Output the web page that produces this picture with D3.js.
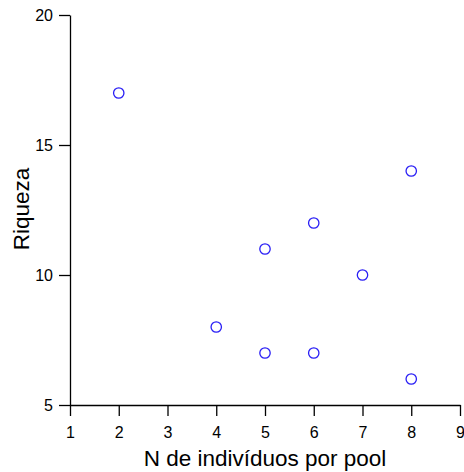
<!DOCTYPE html>
<html>
<head>
<meta charset="utf-8">
<script src="https://cdn.jsdelivr.net/npm/d3@7"></script>
<style>
  html, body { margin: 0; padding: 0; background: #fff; overflow: hidden; }
  svg { display: block; }
</style>
</head>
<body>
<svg id="chart" width="464" height="472"></svg>
<script>
// Riqueza por número de indivíduos no pool
const individuos = [2, 4, 5, 5, 6, 6, 7, 8, 8];
const riqueza    = [17, 8, 11, 7, 12, 7, 10, 14, 6];
const xTicks = [1, 2, 3, 4, 5, 6, 7, 8, 9];
const yTicks = [5, 10, 15, 20];

const svg = d3.select("#chart");
const font = "'Liberation Sans', Arial, sans-serif";

const x = d3.scaleLinear().domain([1, 9]).range([70, 460]);
const y = d3.scaleLinear().domain([5, 20]).range([405, 15]);

const xAxis = svg.append("g")
  .attr("transform", "translate(0,405)")
  .call(d3.axisBottom(x).tickValues(xTicks).tickSize(11).tickPadding(11).tickSizeOuter(0));
const yAxis = svg.append("g")
  .attr("transform", "translate(70,0)")
  .call(d3.axisLeft(y).tickValues(yTicks).tickSize(11).tickPadding(6).tickSizeOuter(0));

[xAxis, yAxis].forEach(g => {
  g.selectAll("path.domain").attr("stroke", "#000").attr("stroke-width", 1.3);
  g.selectAll(".tick line").attr("stroke", "#000").attr("stroke-width", 1.3);
  g.selectAll(".tick text")
    .attr("fill", "#000")
    .style("font-family", font)
    .style("font-size", "16px");
});

svg.append("g")
  .selectAll("circle")
  .data(individuos.map((d, i) => ({ n: d, r: riqueza[i] })))
  .join("circle")
  .attr("cx", d => x(d.n))
  .attr("cy", d => y(d.r))
  .attr("r", 5.2)
  .attr("fill", "none")
  .attr("stroke", "#2a1ff5")
  .attr("stroke-width", 1.3);

svg.append("text")
  .attr("x", 265)
  .attr("y", 466)
  .attr("text-anchor", "middle")
  .style("font-family", font)
  .style("font-size", "22.5px")
  .text("N de indivíduos por pool");

svg.append("text")
  .attr("transform", "translate(29,209) rotate(-90)")
  .attr("text-anchor", "middle")
  .style("font-family", font)
  .style("font-size", "22.5px")
  .text("Riqueza");
</script>
</body>
</html>
